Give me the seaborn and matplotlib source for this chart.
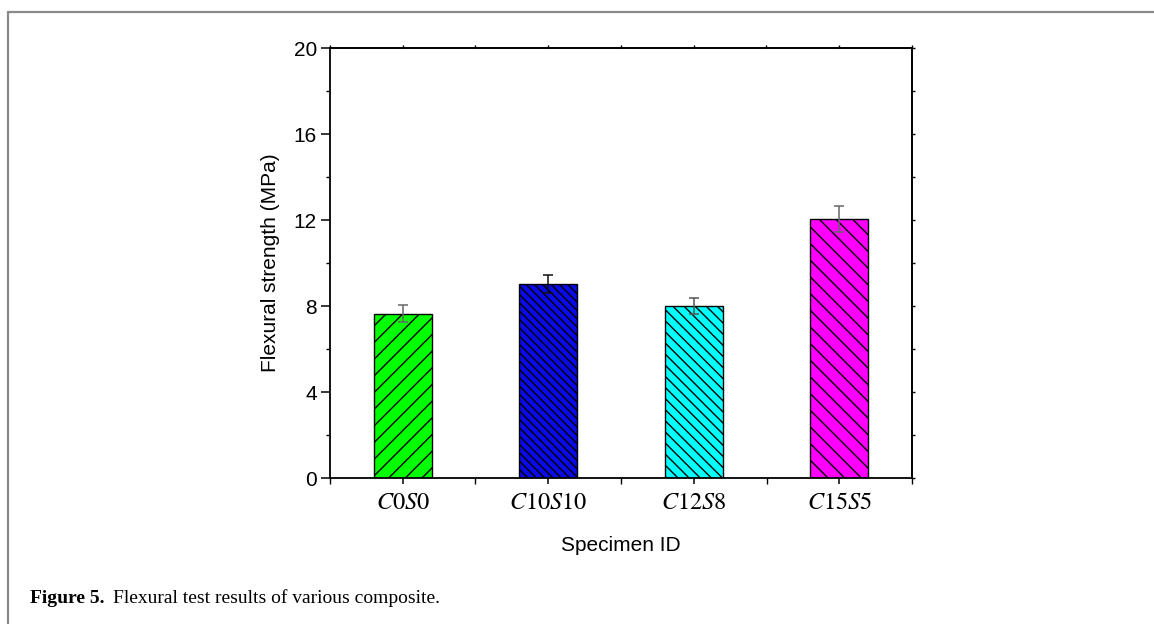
import matplotlib
matplotlib.use("Agg")
import matplotlib.pyplot as plt
import seaborn as sns
import pandas as pd
from matplotlib.lines import Line2D
from matplotlib.ticker import MultipleLocator

specimens = ["C0S0", "C10S10", "C12S8", "C15S5"]
tick_labels = [r"$C0S0$", r"$C10S10$", r"$C12S8$", r"$C15S5$"]
strength = [7.65, 9.03, 8.0, 12.06]
errors = [0.38, 0.43, 0.39, 0.60]
colors = ["#00FF00", "#0A0AE6", "#00FFFF", "#FF00FF"]
err_colors = ["#666666", "#111111", "#555555", "#666666"]
hatches = ["//", "\\\\\\\\", "\\\\\\", "\\\\"]
caption_bold = "Figure 5."
caption_text = "Flexural test results of various composite."

sns.set_theme(style="ticks")
plt.rcParams["font.family"] = ["Liberation Sans", "DejaVu Sans"]
plt.rcParams["mathtext.fontset"] = "stix"
plt.rcParams["hatch.linewidth"] = 1.0
plt.rcParams["hatch.color"] = "black"
plt.rcParams["text.color"] = "black"
plt.rcParams["axes.labelcolor"] = "black"
plt.rcParams["xtick.color"] = "black"
plt.rcParams["ytick.color"] = "black"

df = pd.DataFrame({"Specimen": specimens, "Strength": strength})

fig = plt.figure(figsize=(11.54, 6.24), dpi=100)
ax = fig.add_axes([330 / 1154, 1 - 478 / 624, (912 - 330) / 1154, (478 - 48) / 624])

sns.barplot(data=df, x="Specimen", y="Strength", hue="Specimen",
            palette=colors, saturation=1, width=0.4, edgecolor="black", linewidth=1.0,
            legend=False, ax=ax, errorbar=None)

for patch, h in zip(ax.patches, hatches):
    patch.set_hatch(h)

for i, (v, e, c) in enumerate(zip(strength, errors, err_colors)):
    ax.errorbar([i], [v], yerr=[e], fmt="none", ecolor=c, elinewidth=1.1,
                capsize=3.6, capthick=1.1, zorder=5)

ax.set_xlim(-0.5, 3.5)
ax.set_ylim(0, 20)
ax.yaxis.set_major_locator(MultipleLocator(4))
ax.yaxis.set_minor_locator(MultipleLocator(2))
ax.xaxis.set_minor_locator(MultipleLocator(0.5))
ax.set_xticks(range(len(specimens)))
ax.set_xticklabels(tick_labels, fontsize=17.5)
ax.tick_params(axis="y", labelsize=15, length=6.5, width=1.1, direction="out", pad=3)
ax.tick_params(axis="y", which="minor", length=3.2, width=1.0)
ax.tick_params(axis="x", which="major", length=4, width=1.1, direction="out", pad=6)
ax.tick_params(axis="x", which="minor", length=4, width=1.0, direction="out")

for s in ax.spines.values():
    s.set_visible(True)
    s.set_linewidth(1.3)
    s.set_color("black")

# mirrored ticks on top and right, no labels
sec_x = ax.secondary_xaxis("top")
sec_x.set_xticks([0.5 * i - 0.5 for i in range(9)])
sec_x.tick_params(length=2, width=1.0, labeltop=False, direction="out")
sec_x.set_xticklabels([])
sec_y = ax.secondary_yaxis("right")
sec_y.set_yticks(list(range(0, 21, 2)))
sec_y.tick_params(length=2, width=1.0, labelright=False, direction="out")
sec_y.set_yticklabels([])

ax.set_xlabel("Specimen ID", fontsize=15, labelpad=16)
ax.set_ylabel("Flexural strength (MPa)", fontsize=15, labelpad=10)

# page frame lines
fig.add_artist(Line2D([8 / 1154, 1.0], [1 - 12 / 624, 1 - 12 / 624],
                      transform=fig.transFigure, color="#8a8a8a", lw=1.6))
fig.add_artist(Line2D([8 / 1154, 8 / 1154], [1 - 12 / 624, 0.0],
                      transform=fig.transFigure, color="#8a8a8a", lw=1.6))

fig.text(30 / 1154, 1 - 603 / 624, caption_bold, fontsize=14,
         family=["Liberation Serif", "DejaVu Serif"], fontweight="bold", va="baseline")
fig.text(113 / 1154, 1 - 603 / 624, caption_text, fontsize=14,
         family=["Liberation Serif", "DejaVu Serif"], va="baseline")

fig.savefig("out.png", dpi=100)
